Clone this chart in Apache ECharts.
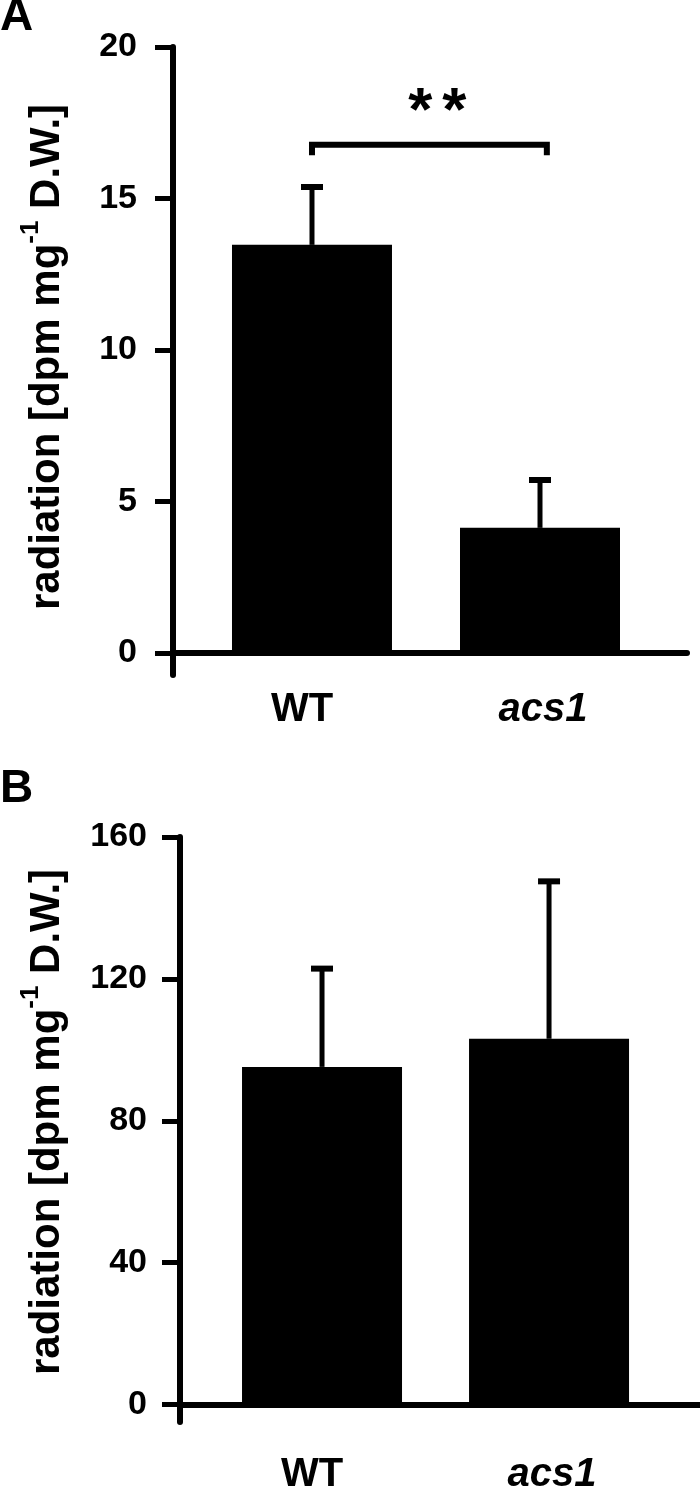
<!DOCTYPE html>
<html><head><meta charset="utf-8">
<script src="https://cdn.jsdelivr.net/npm/echarts@6/dist/echarts.min.js"></script>
<style>html,body{margin:0;padding:0;background:#fff}#c{width:700px;height:1495px}</style>
</head><body><div id="c"></div>
<script>
const categories = ['WT', 'acs1'];
const italicCategories = ['acs1'];
const valuesA = [13.47, 4.13];
const errorsA = [1.91, 1.58];
const valuesB = [95.2, 103.1];
const errorsB = [27.7, 44.4];
const ticksA = [0, 5, 10, 15, 20];
const ticksB = [0, 40, 80, 120, 160];
const sigA = { from: 'WT', to: 'acs1', level: 16.77, drop: 16.43, label: '**' };
const axisTitle = '{t|radiation [dpm mg}{s|-1}{t| D.W.]}';

const FONT = 'Liberation Sans';
const pos = c => categories.indexOf(c) + 1;
const catPositions = categories.map(pos);

function xLabel(v) {
  const c = categories[Math.round(v) - 1];
  return italicCategories.indexOf(c) >= 0 ? '{i|' + c + '}' : '{n|' + c + '}';
}
const xRich = {
  n: { fontSize: 40, fontWeight: 'bold', fontFamily: FONT, color: '#000', padding: [0, 20, 0, 0] },
  i: { fontSize: 40, fontWeight: 'bold', fontStyle: 'italic', fontFamily: FONT, color: '#000', padding: [0, 0, 0, 6] }
};
const nameRich = {
  t: { fontSize: 42, fontWeight: 'bold', fontFamily: FONT, color: '#000', lineHeight: 58 },
  s: { fontSize: 26, fontWeight: 'bold', fontFamily: FONT, color: '#000', lineHeight: 26, verticalAlign: 'top' }
};

function makeX(gi, min, max, margin) {
  return {
    gridIndex: gi, type: 'value', min: min, max: max,
    axisLine: { show: true, onZero: true, lineStyle: { color: '#000', width: 6 } },
    axisTick: { show: false }, splitLine: { show: false },
    axisLabel: { customValues: catPositions, formatter: xLabel, margin: margin, rich: xRich }
  };
}
function makeY(gi, min, max, ticks, margin, gap, shift) {
  return {
    gridIndex: gi, type: 'value', min: min, max: max,
    axisLine: { show: true, onZero: false, lineStyle: { color: '#000', width: 6 } },
    axisTick: { show: true, customValues: ticks, length: 18, lineStyle: { color: '#000', width: 5 } },
    axisLabel: { customValues: ticks, margin: margin, fontSize: 34, fontWeight: 'bold', fontFamily: FONT, color: '#000' },
    splitLine: { show: false },
    name: axisTitle, nameLocation: 'middle', nameRotate: 90, nameGap: gap,
    nameTextStyle: { rich: nameRich, padding: [0, 0, 0, shift] }
  };
}

function errRender(params, api) {
  const x = api.value(0), v = api.value(1), e = api.value(2);
  const base = api.coord([x, v]);
  const top = api.coord([x, v + e]);
  const half = 11;
  return {
    type: 'group', children: [
      { type: 'line', shape: { x1: base[0], y1: base[1], x2: top[0], y2: top[1] }, style: { stroke: '#000', lineWidth: 5 } },
      { type: 'line', shape: { x1: top[0] - half, y1: top[1], x2: top[0] + half, y2: top[1] }, style: { stroke: '#000', lineWidth: 6 } }
    ]
  };
}
function sigRender(params, api) {
  const x1 = api.value(0), x2 = api.value(1), lv = api.value(2), dr = api.value(3);
  const a = api.coord([x1, dr]), b = api.coord([x1, lv]), c = api.coord([x2, lv]), d = api.coord([x2, dr]);
  const chars = sigA.label.split('');
  const step = 34;
  const cx = (b[0] + c[0]) / 2 + 8;
  const children = [
    { type: 'polyline', shape: { points: [a, b, c, d] }, style: { stroke: '#000', lineWidth: 6, fill: null } }
  ];
  chars.forEach((ch, k) => {
    children.push({ type: 'text', x: cx + (k - (chars.length - 1) / 2) * step, y: b[1] - 32,
      style: { text: ch, fontSize: 62, fontWeight: 'bold', fontFamily: FONT, fill: '#000', align: 'center', verticalAlign: 'middle' } });
  });
  return { type: 'group', children: children };
}

const chart = echarts.init(document.getElementById('c'), null, { renderer: 'canvas' });
chart.setOption({
  animation: false,
  backgroundColor: '#fff',
  title: [
    { text: 'A', left: 0, top: -6, padding: 0, textStyle: { fontSize: 46, fontWeight: 'bold', fontFamily: FONT, color: '#000' } },
    { text: 'B', left: 0, top: 766, padding: 0, textStyle: { fontSize: 46, fontWeight: 'bold', fontFamily: FONT, color: '#000' } }
  ],
  grid: [
    { left: 173, top: 47, width: 514, height: 628 },
    { left: 180, top: 837, width: 520, height: 606 }
  ],
  xAxis: [
    makeX(0, 0.3904, 2.6447, 15),
    makeX(1, 0.3744, 2.665, 33)
  ],
  yAxis: [
    makeY(0, -0.726, 20, ticksA, 36, 97, 8),
    makeY(1, -4.898, 160, ticksB, 33, 104, 15)
  ],
  series: [
    { type: 'bar', xAxisIndex: 0, yAxisIndex: 0, barWidth: 160, itemStyle: { color: '#000' },
      data: categories.map((c, i) => [pos(c), valuesA[i]]) },
    { type: 'custom', xAxisIndex: 0, yAxisIndex: 0, renderItem: errRender, z: 3,
      data: categories.map((c, i) => [pos(c), valuesA[i], errorsA[i]]) },
    { type: 'custom', xAxisIndex: 0, yAxisIndex: 0, renderItem: sigRender, z: 3,
      data: [[pos(sigA.from), pos(sigA.to) + 0.03, sigA.level, sigA.drop]] },
    { type: 'bar', xAxisIndex: 1, yAxisIndex: 1, barWidth: 160, itemStyle: { color: '#000' },
      data: categories.map((c, i) => [pos(c), valuesB[i]]) },
    { type: 'custom', xAxisIndex: 1, yAxisIndex: 1, renderItem: errRender, z: 3,
      data: categories.map((c, i) => [pos(c), valuesB[i], errorsB[i]]) }
  ]
});
</script>
</body></html>
